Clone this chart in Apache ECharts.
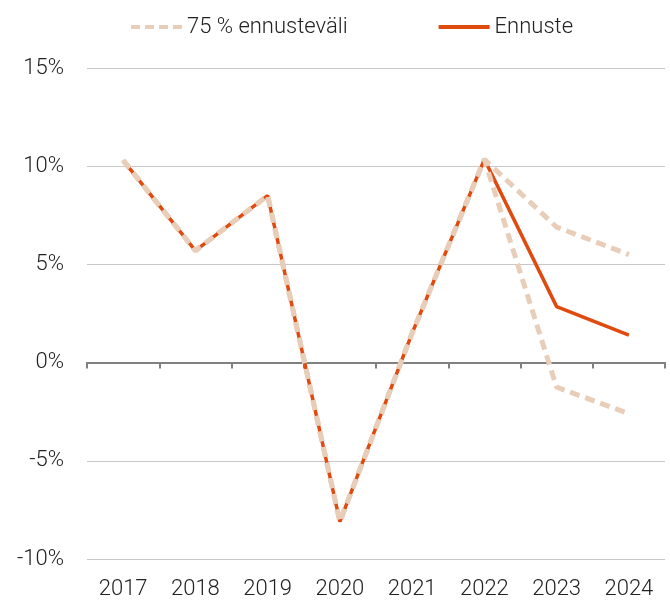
<!DOCTYPE html>
<html>
<head>
<meta charset="utf-8">
<script src="https://cdn.jsdelivr.net/npm/echarts@6/dist/echarts.min.js"></script>
<style>
  html, body { margin: 0; padding: 0; background: #fff; }
  #chart { width: 670px; height: 601px; }
</style>
</head>
<body>
<div id="chart"></div>
<script>
const years = ["2017", "2018", "2019", "2020", "2021", "2022", "2023", "2024"];
const forecast = [10.3, 5.7, 8.5, -8.1, 1.5, 10.35, 2.85, 1.4];
const upperBand = [10.3, 5.7, 8.5, -8.1, 1.5, 10.35, 6.9, 5.5];
const lowerBand = [10.3, 5.7, 8.5, -8.1, 1.5, 10.35, -1.25, -2.6];

const bandName = "75 % ennusteväli";
const fcName = "Ennuste";
const red = "#e04a0e";
const beige = "#e8cdb8";
const font = "Roboto";

// legend icons: a dashed bar and a solid bar
const dashIcon = "path://M0,0h9v4h-9z M14,0h9v4h-9z M28,0h9v4h-9z M42,0h9v4h-9z";
const solidIcon = "path://M0,0h51v4h-51z";

const chart = echarts.init(document.getElementById("chart"), null, { renderer: "canvas" });

const bandStyle = { color: beige, width: 5, type: [10, 6], cap: "butt" };

chart.setOption({
  animation: false,
  textStyle: { fontFamily: font },
  legend: {
    top: 11,
    left: 126,
    itemWidth: 51,
    itemHeight: 4,
    itemGap: 91,
    data: [
      { name: bandName, icon: dashIcon },
      { name: fcName, icon: solidIcon }
    ],
    textStyle: { fontSize: 22, fontWeight: 300, color: "#222", fontFamily: font }
  },
  grid: { left: 87, right: 5, top: 68, bottom: 42 },
  xAxis: [
    {
      type: "category",
      data: years,
      position: "bottom",
      axisLine: { show: false, onZero: false },
      axisTick: { show: false },
      axisLabel: { fontSize: 22, fontWeight: 300, color: "#222", margin: 19, fontFamily: font }
    },
    {
      type: "category",
      data: years,
      position: "bottom",
      axisLine: { onZero: true, onZeroAxisIndex: 0, lineStyle: { color: "#808080", width: 2 } },
      axisTick: { show: true, length: 6, lineStyle: { color: "#808080", width: 2 } },
      axisLabel: { show: false }
    }
  ],
  yAxis: {
    type: "value",
    min: -10,
    max: 15,
    interval: 5,
    axisLine: { show: false },
    axisTick: { show: false },
    splitLine: { lineStyle: { color: "#c8c8c8", width: 1 } },
    axisLabel: { formatter: "{value}%", fontSize: 22, fontWeight: 300, color: "#222", margin: 23, fontFamily: font }
  },
  series: [
    {
      name: fcName,
      type: "line",
      data: forecast,
      symbol: "none",
      z: 2,
      lineStyle: { color: red, width: 3.5 },
      itemStyle: { color: red }
    },
    {
      name: bandName,
      type: "line",
      data: upperBand,
      symbol: "none",
      z: 3,
      lineStyle: bandStyle,
      itemStyle: { color: beige }
    },
    {
      name: bandName,
      type: "line",
      data: lowerBand,
      symbol: "none",
      z: 3,
      lineStyle: bandStyle,
      itemStyle: { color: beige }
    }
  ]
});
</script>
</body>
</html>
